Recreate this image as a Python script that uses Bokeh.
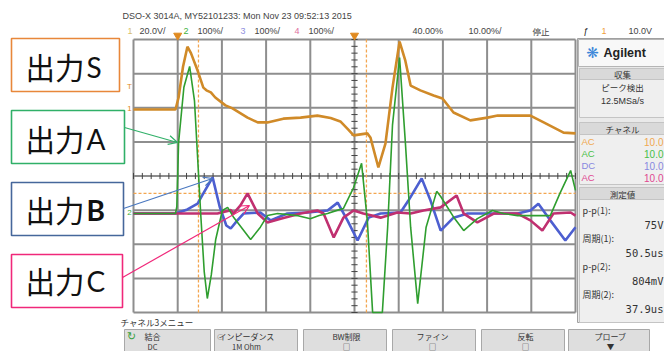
from bokeh.plotting import figure
from bokeh.models import Range1d, Arrow, OpenHead
from bokeh.embed import file_html
from bokeh.resources import INLINE
from bokeh.core.properties import value

# ---------------- data (time in us, value in screen divisions) ----------------
t_s = [-10, -0.5, 0.2, 1.2, 2.2, 3.0, 4.5, 5.8, 6.5, 7.5, 8.5, 10.8, 12.4, 15.8, 18.1, 20.3, 23.9, 27.8, 31.6, 34.6,
       36.8, 38.6, 39.8, 42.9, 43.6, 45.4, 47.0, 48.6, 50.2, 51.5, 52.7, 54.9, 57.9, 59.9, 62.4, 66.2, 70.1, 72.4,
       79.8, 82.8, 87.3, 90]
v_s = [1.95, 1.95, 2.3, 3.2, 3.79, 3.6, 3.09, 2.59, 2.51, 2.45, 2.3, 2.07, 1.98, 1.71, 1.57, 1.57, 1.68, 1.71, 1.77, 1.70,
       1.60, 1.36, 1.19, 1.25, 1.13, 0.25, 0.95, 2.59, 3.94, 3.38, 2.65, 2.51, 2.36, 2.27, 1.86, 1.63, 1.71, 1.77,
       1.77, 1.57, 1.27, 1.25]

t_a = [-10, -0.5, -0.2, 0.2, 1.4, 2.7, 3.8, 5.2, 6.0, 6.7, 7.6, 8.6, 10.1, 11.3, 12.6, 16.5, 18.7, 20.3, 22.6, 27.0,
       30.0, 32.0, 33.9, 36.2, 37.5, 39.8, 41.6, 42.9, 44.1, 46.3, 47.5, 48.6, 50.2, 51.5, 52.7, 54.3, 56.2, 58.6, 59.5,
       62.4, 64.7, 67.8, 71.2, 73.7, 76.9, 80.5, 84.3, 86.5, 88.9, 90]
v_a = [-1.10, -1.10, -0.9, 0.98, 2.6, 3.21, 2.2, -1.10, -2.8, -3.59, -2.9, -1.86, -1.01, -0.92, -1.2, -1.86, -1.5, -1.16,
       -1.10, -1.16, -1.25, -1.16, -1.10, -1.0, -0.95, -0.34, 0.37, -1.30, -4.0, -4.0, -1.5, 1.5, 3.47, 1.0, -1.5, -3.74,
       -1.5, -0.45, -0.6, -1.2, -1.60, -1.25, -1.01, -1.10, -1.16, -1.16, -1.16, -0.5, 0.16, -0.42]

t_b = [-10, -0.5, 2.2, 4.5, 5.8, 7.9, 9.5, 11.0, 12.0, 13.5, 14.9, 18.7, 21.0, 24.8, 29.4, 33.9, 36.2, 38.4, 40.7, 43.2,
       45.9, 50.4, 52.2, 55.2, 57.2, 59.5, 62.4, 65.6, 70.1, 76.9, 79.8, 81.6, 84.3, 87.7, 90]
v_b = [-1.10, -1.10, -0.98, -0.81, -0.51, -0.04, -0.9, -1.45, -1.54, -1.3, -1.10, -1.07, -1.30, -1.10, -1.07, -1.01, -0.78,
       -1.30, -1.89, -1.22, -1.10, -1.07, -0.72, -0.07, -0.72, -1.60, -1.22, -1.10, -1.10, -1.10, -1.01, -0.81, -1.30,
       -1.89, -1.50]

t_c = [-10, 9.0, 12.0, 12.6, 14.2, 15.8, 18.1, 20.3, 23.3, 27.8, 31.6, 33.0, 35.3, 37.5, 39.8, 42.0, 45.9, 49.7, 52.7,
       55.6, 59.5, 63.1, 64.7, 67.8, 71.5, 76.9, 79.8, 82.5, 85.0, 88.9, 90]
v_c = [-1.10, -1.10, -1.0, -1.10, -0.86, -0.51, -1.10, -1.36, -1.25, -1.10, -1.01, -1.10, -1.80, -1.22, -1.01, -1.10,
       -1.22, -1.07, -1.10, -1.01, -0.92, -0.57, -1.10, -1.36, -1.10, -1.10, -1.30, -1.60, -1.10, -1.07, -1.16]

grid_t = [-10, 0, 10, 20, 30, 40, 50, 60, 70, 80, 90]
grid_v = [-4, -3, -2, -1, 0, 1, 2, 3, 4]
cursor_t = [4.7, 42.7]
cursor_v = -0.51
markers_t = [0, 40]

labels = ["出力", "出力", "出力", "出力"]
letters = ["S", "A", "B", "C"]

# ---------------- layout helpers (reference pixel -> data) ----------------
W, H = 664, 351
PX_US, PX_DIV = 4.42, 34.125
GX0, GY0 = 133, 175.5


def X(px):
    return -10 + (px - GX0) / PX_US


def Y(py):
    return (GY0 - py) / PX_DIV


p = figure(width=W, height=H, output_backend="svg", toolbar_location=None,
           x_range=Range1d(X(0), X(W)), y_range=Range1d(Y(H), Y(0)),
           min_border=0, x_axis_type=None, y_axis_type=None)
p.outline_line_color = None
p.grid.grid_line_color = None
p.background_fill_color = "white"
p.border_fill_color = "white"

JP = "Noto Sans CJK JP"
NARROW = "Liberation Sans Narrow, Liberation Sans"


def txt(x, y, s, size=9, color="#333333", align="left", font=JP, style="normal"):
    p.text(x=[X(x)], y=[Y(y)], text=[s], text_font=value(font), text_font_size=f"{size}px",
           text_color=color, text_align=align, text_baseline="middle", text_font_style=style)


def box(x0, x1, y0, y1, fill="white", line="#999999", lw=1.0, alpha=1.0):
    p.quad(left=[X(x0)], right=[X(x1)], top=[Y(y0)], bottom=[Y(y1)], fill_color=fill,
           fill_alpha=alpha, line_color=line, line_width=lw)


# ---------------- scope grid ----------------
gl = "#8e8e8e"
p.segment(x0=grid_t, x1=grid_t, y0=[-4] * len(grid_t), y1=[4] * len(grid_t), line_color=gl, line_width=2)
p.segment(x0=[-10] * len(grid_v), x1=[90] * len(grid_v), y0=grid_v, y1=grid_v, line_color=gl, line_width=2)
# center ticks
tv = [-4 + 0.2 * i for i in range(41)]
p.segment(x0=[40 - 0.7] * len(tv), x1=[40 + 0.7] * len(tv), y0=tv, y1=tv, line_color="#444444", line_width=1)
tt = [-10 + 2 * i for i in range(51)]
p.segment(x0=tt, x1=tt, y0=[-0.09] * len(tt), y1=[0.09] * len(tt), line_color="#444444", line_width=1)

# cursors
for c in cursor_t:
    p.line([c, c], [-4, 4], line_color="#f3a650", line_width=1.3, line_dash="3 2")
p.line([-10, 90], [cursor_v, cursor_v], line_color="#f3a650", line_width=1.3, line_dash="3 2")

# top markers
p.scatter(x=markers_t, y=[Y(35)] * 2, marker="inverted_triangle", size=8, fill_color="#e08a20", line_color="#e08a20")

# ---------------- traces ----------------
p.line(t_s, v_s, line_color="#d08a28", line_width=2.6)
p.line(t_b, v_b, line_color="#4d5fd0", line_width=2.6)
p.line(t_c, v_c, line_color="#c03070", line_width=2.6)
p.line(t_a, v_a, line_color="#2f9e2f", line_width=1.6)

# channel markers at left
txt(129, 86, "T", 8, "#e08a20", "center", "Liberation Sans")
txt(129, 108, "1", 8, "#e08a20", "center", "Liberation Sans")
txt(129, 212, "2", 8, "#40b040", "center", "Liberation Sans")

# ---------------- header ----------------
txt(122, 15, "DSO-X 3014A, MY52101233: Mon Nov 23 09:52:13 2015", 9, "#444444", "left", NARROW)
hdr = [(127, "1", "#d8c070"), (139, "20.0V/", "#444444"), (183, "2", "#40b040"), (197, "100%/", "#444444"),
       (240, "3", "#9090e0"), (254, "100%/", "#444444"), (294, "4", "#e070a0"), (308, "100%/", "#444444"),
       (412, "40.00%", "#444444"), (468, "10.00%/", "#444444"), (583, "ƒ", "#222222"), (601, "1", "#f0a040"),
       (628, "10.0V", "#444444")]
for hx, hs, hc in hdr:
    txt(hx, 30, hs, 9, hc, "left", NARROW)
txt(532, 30, "停止", 8.5, "#444444", "left", JP)

# ---------------- right panel ----------------
box(577, 664, 38, 322, fill="#e9e9e9", line="#a0a0a0")
box(578, 664, 39, 66, fill="#f8f8f8", line="#b5b5b5")
txt(592, 52, "❋", 15, "#3a86d8", "center", "DejaVu Sans")
txt(603, 52, "Agilent", 12.5, "#222222", "left", "Liberation Sans", "bold")
# acquisition
box(579, 664, 68, 117, fill="#efefef", line="#c4c4c4")
box(579, 664, 68, 79, fill="#d9d9d9", line="#c4c4c4")
txt(622, 73.5, "収集", 8.5, "#333333", "center")
txt(622, 86, "ピーク検出", 8.5, "#333333", "center")
txt(622, 100, "12.5MSa/s", 9, "#333333", "center", NARROW)
# channels
box(579, 664, 122, 184, fill="#efefef", line="#c4c4c4")
box(579, 664, 122, 134, fill="#d9d9d9", line="#c4c4c4")
txt(622, 128, "チャネル", 8.5, "#333333", "center")
rows = [("AC", "#f0a850", 141), ("AC", "#48c048", 153), ("DC", "#8888e0", 165), ("AC", "#e04890", 177)]
for r, col, ry in rows:
    txt(581, ry, r, 9.5, col, "left", NARROW)
    txt(663, ry, "10.0", 10, col, "right", NARROW)
# measurements
box(579, 664, 187, 322, fill="#efefef", line="#c4c4c4")
box(579, 664, 187, 199, fill="#d9d9d9", line="#c4c4c4")
txt(622, 193, "測定値", 8.5, "#333333", "center")
meas = [("p-p(1):", 210, "left"), ("75V", 224, "right"), ("周期(1):", 238, "left"), ("50.5us", 252, "right"),
        ("p-p(2):", 266, "left"), ("804mV", 280, "right"), ("周期(2):", 294, "left"), ("37.9us", 308, "right")]
for ms, my, ma in meas:
    if ma == "left":
        txt(582, my, ms, 9, "#333333", "left")
    else:
        txt(663, my, ms, 10.5, "#333333", "right", "DejaVu Sans Mono")

# ---------------- bottom softkeys ----------------
txt(120, 321, "チャネル3メニュー", 8.5, "#333333", "left")
keys = [(124, 210, 152, "結合", "DC"), (214, 297, 246, "インピーダンス", "1M Ohm"), (303, 386, 346, "BW制限", "□"),
        (392, 475, 432, "ファイン", "□"), (481, 564, 525, "反転", "□"), (568, 649, 610, "プローブ", "▼")]
for k0, k1, kc, k_top, k_bot in keys:
    box(k0, k1, 329, 352, fill="#dedede", line="#a8a8a8")
    txt(kc, 336, k_top, 8, "#333333", "center")
    txt(kc, 345.5, k_bot, 7.5, "#333333", "center")
txt(131, 336, "↻", 11, "#3aa040", "center", "DejaVu Sans")
txt(220, 336, "○", 8, "#888888", "center", "DejaVu Sans")

# ---------------- label boxes and arrows ----------------
lab_boxes = [(11, 119, 38, 91, "#e8873a", 65), (11, 124, 110, 163, "#30b068", 137),
             (11, 123, 182, 235, "#46679b", 208), (11, 122, 254, 307, "#f0287a", 279)]
for (x0, x1, y0, y1, col, cy), lab, let in zip(lab_boxes, labels, letters):
    box(x0, x1, y0, y1, fill="white", line=col, lw=1.6)
    txt(25, cy, lab, 29.5, "#111111", "left", JP)
    txt(86, cy + 1, let, 28, "#111111", "left", "Lato", "bold" if let == "B" else "normal")

arrows = [(124, 127, 177, 142, "#30b068"), (123, 208, 212, 178, "#4a78c0"), (122, 277, 249, 205, "#f0287a")]
for xs, ys, xe, ye, col in arrows:
    p.add_layout(Arrow(end=OpenHead(size=9, line_color=col, line_width=1.2), x_start=X(xs), y_start=Y(ys),
                       x_end=X(xe), y_end=Y(ye), line_color=col, line_width=1.2))

open("out.html", "w").write(file_html(p, INLINE))
